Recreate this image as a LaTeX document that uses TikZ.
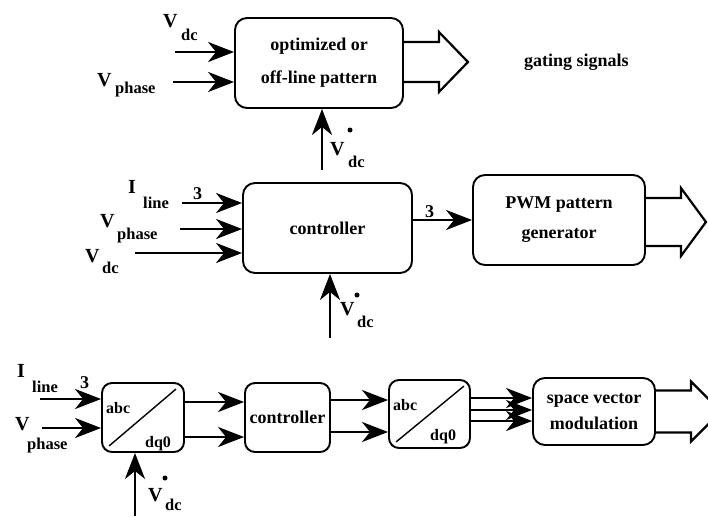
\documentclass[tikz,border=0pt]{standalone}
\usepackage{fontspec}
\setmainfont{Liberation Serif}
\usetikzlibrary{arrows.meta,calc}
\begin{document}
\begin{tikzpicture}[x=1pt,y=-1pt,
 blk/.style={draw,line width=1.9pt,rounded corners=12pt,inner sep=0pt,align=center,font=\fontsize{18}{30}\bfseries\selectfont},
 arr/.style={line width=2.8pt,-{Stealth[length=26pt,width=20pt,inset=8pt]}},
 fat/.style={draw,line width=2.2pt,line join=miter},
 big/.style={font=\fontsize{20}{20}\bfseries\selectfont,inner sep=0pt,anchor=base west},
 sub/.style={font=\fontsize{16.5}{16}\bfseries\selectfont,inner sep=0pt,anchor=base west},
 inl/.style={font=\fontsize{16}{16}\bfseries\selectfont,inner sep=0pt,anchor=base west},
 num/.style={font=\fontsize{18}{18}\bfseries\selectfont,inner sep=0pt,anchor=base west},
 dotl/.style={circle,fill,inner sep=0pt,minimum size=5pt},
 diag/.style={line width=1.4pt},
]
\useasboundingbox[fill=white] (0,0) rectangle (708,516);

% ---------- top row ----------
\node[blk,minimum width=168pt,minimum height=90pt] (opt) at (319,63) {optimized or\\[3pt]off-line pattern};
\node[font=\fontsize{18}{20}\bfseries\selectfont,anchor=west,inner sep=0pt] (gs) at (524,62) {gating signals};
\coordinate (i1) at (175,52);
\coordinate (i2) at (173,82);
\coordinate (i3) at (322,170);
\draw[arr] (i1) -- (i1 -| opt.west);
\draw[arr] (i2) -- (i2 -| opt.west);
\draw[arr] (i3) -- (i3 |- opt.south);
\draw[fat] ($(opt.east)+(0,-21)$) -- ++(35,0) -- ++(0,-10) -- ++(29,30) -- ++(-29,30) -- ++(0,-10) -- ++(-35,0);
\node[big] (l1) at (163,28) {V};
\node[sub] (l1s) at (181,41) {dc};
\node[big] (l2) at (97,87) {V};
\node[sub] (l2s) at (115,94) {phase};
\node[big] (l3) at (330,155) {V};
\node[dotl] (l3d) at (350,130) {};
\node[sub] (l3s) at (348,167) {dc};

% ---------- middle row ----------
\node[blk,minimum width=169pt,minimum height=90pt] (c1) at (327.5,228) {controller};
\node[blk,minimum width=172pt,minimum height=90pt] (pwm) at (559,220) {PWM pattern\\generator};
\coordinate (m1) at (182,203);
\coordinate (m2) at (180,229);
\coordinate (m3) at (135,253);
\coordinate (m4) at (330,338);
\draw[arr] (m1) -- (m1 -| c1.west);
\draw[arr] (m2) -- (m2 -| c1.west);
\draw[arr] (m3) -- (m3 -| c1.west);
\draw[arr] (m4) -- (m4 |- c1.south);
\draw[arr] (c1.east |- pwm.west) -- (pwm.west);
\draw[fat] ($(pwm.east)+(0,-22)$) -- ++(35,0) -- ++(0,-10) -- ++(25,34) -- ++(-25,34) -- ++(0,-10) -- ++(-35,0);
\node[big] (n1) at (128,193) {I};
\node[sub] (n1s) at (143,208) {line};
\node[num] (n1n) at (193,199) {3};
\node[big] (n2) at (100,227) {V};
\node[sub] (n2s) at (117,239) {phase};
\node[big] (n3) at (85,262) {V};
\node[sub] (n3s) at (102,273) {dc};
\node[big] (n4) at (340,315) {V};
\node[dotl] (n4d) at (357,295) {};
\node[sub] (n4s) at (357,327) {dc};
\node[num] (n5) at (425,217) {3};

% ---------- bottom row ----------
\node[blk,minimum width=82pt,minimum height=69pt,rounded corners=10pt] (t1) at (143,417.5) {};
\node[blk,minimum width=85pt,minimum height=69pt,rounded corners=10pt] (c2) at (287.5,417.5) {controller};
\node[blk,minimum width=81pt,minimum height=68pt,rounded corners=10pt] (t2) at (429.5,414) {};
\node[blk,minimum width=122pt,minimum height=67pt] (svm) at (594,411.5) {space vector\\[-4pt]modulation};
\draw[diag] ([shift={(8pt,7pt)}]t1.south west) -- ([shift={(-9pt,-7pt)}]t1.north east);
\draw[diag] ([shift={(8pt,7pt)}]t2.south west) -- ([shift={(-7pt,-7pt)}]t2.north east);
\node[inl] (t1a) at (106,413) {abc};
\node[inl] (t1b) at (145,447) {dq0};
\node[inl] (t2a) at (393,410) {abc};
\node[inl] (t2b) at (430,440) {dq0};

\coordinate (b1) at (40,399);
\coordinate (b2) at (42,428);
\coordinate (b3) at (135,516);
\draw[arr] (b1) -- (b1 -| t1.west);
\draw[arr] (b2) -- (b2 -| t1.west);
\draw[arr] (b3) -- (b3 |- t1.south);

\coordinate (r402) at (0,402);
\coordinate (r437) at (0,437);
\coordinate (r400) at (0,400);
\coordinate (r432) at (0,432);
\coordinate (r398) at (0,398);
\coordinate (r410) at (0,410);
\coordinate (r421) at (0,421);
\draw[arr] (t1.east |- r402) -- (c2.west |- r402);
\draw[arr] (t1.east |- r437) -- (c2.west |- r437);
\draw[arr] (c2.east |- r400) -- (t2.west |- r400);
\draw[arr] (c2.east |- r432) -- (t2.west |- r432);
\draw[arr] (t2.east |- r398) -- (svm.west |- r398);
\draw[arr] (t2.east |- r410) -- (svm.west |- r410);
\draw[arr] (t2.east |- r421) -- (svm.west |- r421);
\draw[fat] ($(svm.east)+(0,-21)$) -- ++(35,0) -- ++(0,-9) -- ++(30,30) -- ++(-30,30) -- ++(0,-9) -- ++(-35,0);

\node[big] (o1) at (17,377) {I};
\node[sub] (o1s) at (32,392) {line};
\node[num] (o1n) at (80,388) {3};
\node[big] (o2) at (15,430) {V};
\node[sub] (o2s) at (27,449) {phase};
\node[big] (o3) at (148,501) {V};
\node[dotl] (o3d) at (165,478) {};
\node[sub] (o3s) at (165,510) {dc};
\end{tikzpicture}
\end{document}
